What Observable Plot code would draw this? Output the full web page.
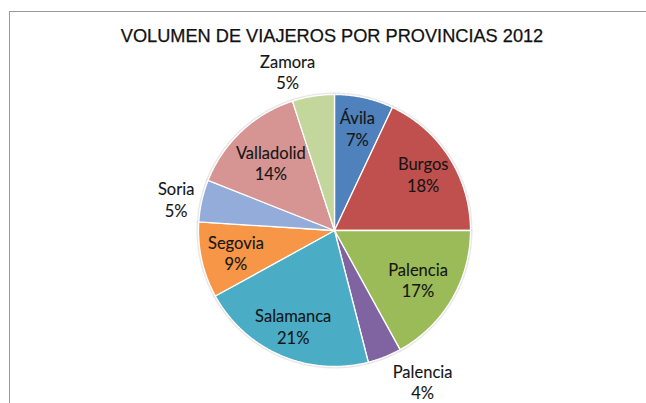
<!DOCTYPE html>
<html>
<head>
<meta charset="utf-8">
<script src="https://cdn.jsdelivr.net/npm/d3@7"></script>
<script src="https://cdn.jsdelivr.net/npm/@observablehq/plot@0.6"></script>
<style>
  html, body { margin: 0; padding: 0; background: #fff; }
  #wrap { position: relative; width: 646px; height: 403px; overflow: hidden; background: #fff; }
  #frame { position: absolute; left: 9px; top: 11px; right: -2px; bottom: -2px;
           border-left: 1.5px solid #9a9a9a; border-top: 1.5px solid #9a9a9a; }
  #title { position: absolute; left: 0; top: 26px; width: 664px; text-align: center;
           font-family: "Liberation Sans", Arial, sans-serif; font-size: 18.2px; color: #111;
           -webkit-text-stroke: 0.25px #111; }
  #chart { position: absolute; left: 0; top: 0; }
</style>
</head>
<body>
<div id="wrap">
  <div id="frame"></div>
  <div id="chart"></div>
  <div id="title">VOLUMEN DE VIAJEROS POR PROVINCIAS 2012</div>
</div>
<script>
// ---- data ----
const categories = ["Ávila", "Burgos", "Palencia", "Palencia", "Salamanca", "Segovia", "Soria", "Valladolid", "Zamora"];
const percents = [7, 18, 17, 4, 21, 9, 5, 14, 5];
const palette = ["#4F81BD", "#C0504D", "#9BBB59", "#8064A2", "#4BACC6", "#F79646", "#93ACDA", "#D69593", "#C3D69B"];

// ---- geometry (pie drawn in data units, radius = 1) ----
const W = 646, H = 403;
const cx = 334, cy = 230, R = 136; // pixel center / radius
const fontSize = 16.5, lineH = 1.3;
const xDomain = [-cx / R, (W - cx) / R];
const yDomain = [(cy - H) / R, cy / R];

const total = d3.sum(percents);
const keys = categories.map((c, i) => i + "|" + c);
const clamp = v => Math.max(-1, Math.min(1, v));
const slices = [];
const labels = [];
let cum = 0;
percents.forEach((p, i) => {
  const a0 = cum / total * 2 * Math.PI;
  cum += p;
  const a1 = cum / total * 2 * Math.PI;
  const steps = Math.max(2, Math.ceil((a1 - a0) / (Math.PI / 360)));
  slices.push({key: keys[i], x: 0, y: 0});
  for (let s = 0; s <= steps; s++) {
    const a = a0 + (a1 - a0) * s / steps;
    slices.push({key: keys[i], x: Math.sin(a), y: Math.cos(a)});
  }
  const m = (a0 + a1) / 2, sm = Math.sin(m), cm = Math.cos(m);
  const hw = categories[i].length * fontSize * 0.25 + 2; // half box width (px)
  const hh = fontSize * lineH;                            // half box height (px, two lines)
  let lx, ly;
  if (p <= 5) {
    // outside label, box placed against the rim
    const gap = 3;
    lx = sm + (clamp(sm * 5.5) * (hw + gap)) / R;
    ly = cm + (clamp(cm * Math.abs(cm) * 1.3) * (hh + gap)) / R;
  } else {
    // inside label: push outward along the bisector until the box touches the rim
    const lim = R - 2;
    let t = 0;
    while (t < 0.77 * R) {
      const nx = Math.abs(sm) * (t + 1) + hw, ny = Math.abs(cm) * (t + 1) + hh * 0.5 + 1;
      if (Math.hypot(nx, ny) > lim) break;
      t += 1;
    }
    lx = t * sm / R;
    ly = t * cm / R;
  }
  labels.push({key: keys[i], x: lx, y: ly, text: categories[i] + "\n" + p + "%"});
});

const plot = Plot.plot({
  width: W,
  height: H,
  margin: 0,
  x: {domain: xDomain, axis: null},
  y: {domain: yDomain, axis: null},
  color: {domain: keys, range: palette},
  marks: [
    // soft shadow ring
    Plot.line(slices.filter(d => !(d.x === 0 && d.y === 0)), {
      x: "x", y: "y", z: "key", stroke: "#d8d8d8", strokeWidth: 4, strokeOpacity: 0.6
    }),
    Plot.line(slices, {
      x: "x", y: "y", z: "key", fill: "key", stroke: "white", strokeWidth: 1.3,
      curve: "linear-closed"
    }),
    Plot.text(labels, {
      x: "x", y: "y", text: "text", fill: "#151515", stroke: "#151515", strokeWidth: 0.12,
      fontFamily: "Lato, 'Open Sans', sans-serif", fontSize: fontSize, lineHeight: lineH,
      lineAnchor: "middle", textAnchor: "middle"
    })
  ]
});
document.getElementById("chart").appendChild(plot);
</script>
</body>
</html>
